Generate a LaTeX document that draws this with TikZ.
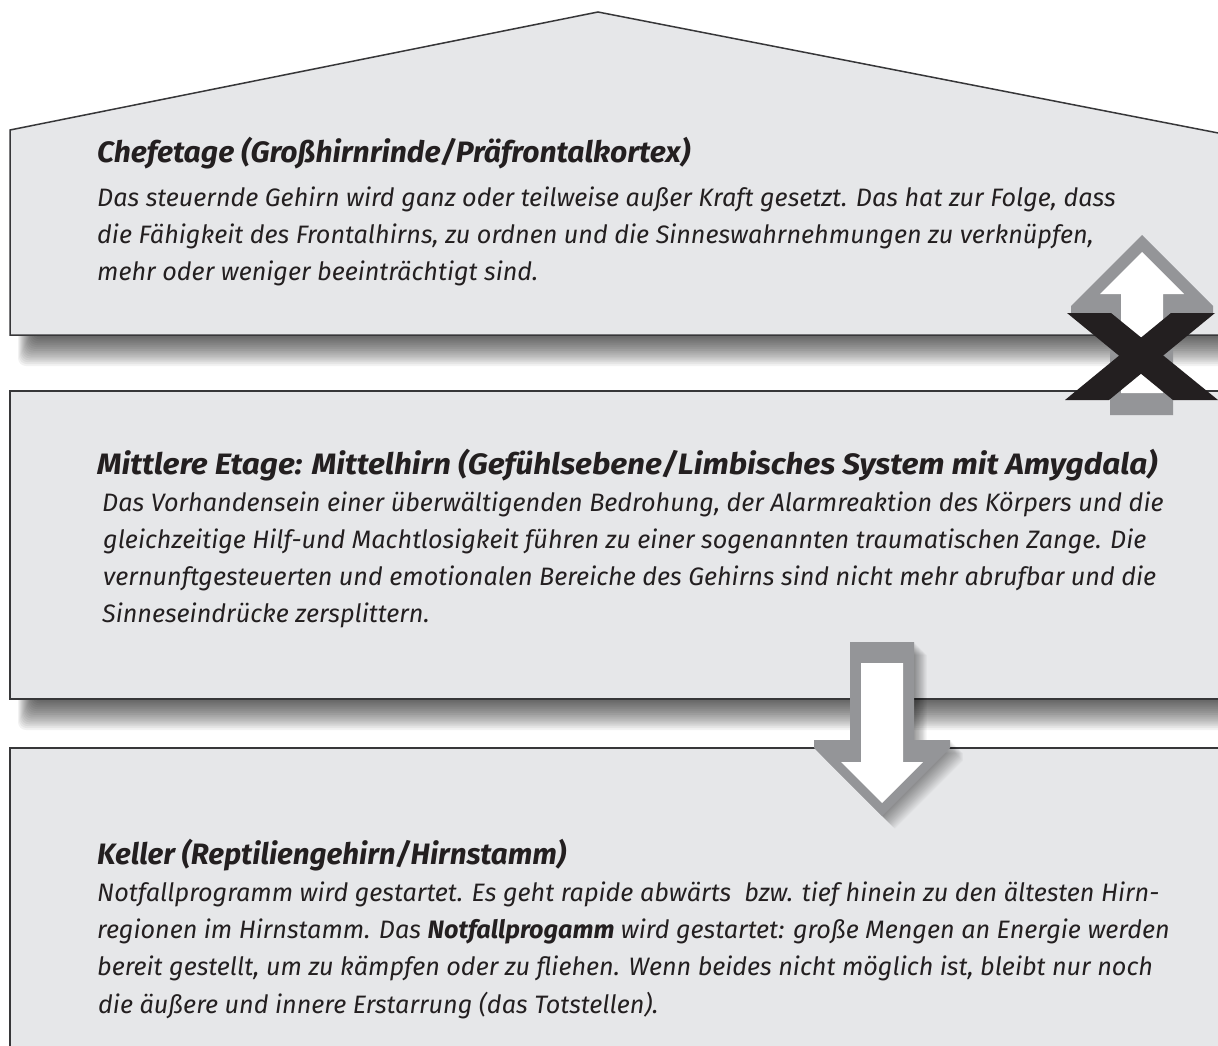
\documentclass[tikz,border=0pt]{standalone}
\usepackage{fontspec}
\usepackage{graphicx}
\setmainfont{Fira Sans}
\definecolor{boxfill}{RGB}{230,231,233}
\definecolor{boxline}{RGB}{55,55,57}
\definecolor{txt}{RGB}{35,31,32}
\definecolor{arrowgray}{RGB}{148,149,152}
\begin{document}
\begin{tikzpicture}[x=1pt,y=-1pt,
  boxstyle/.style={fill=boxfill,draw=boxline,line width=1.5pt,line join=miter},
  titletext/.style={anchor=base west,inner sep=0pt,text=txt,font=\fontsize{29.5}{34}\selectfont\bfseries\itshape},
  bodytext/.style={anchor=base west,inner sep=0pt,text=txt,font=\fontsize{25.2}{30}\selectfont\itshape},
  shadowlayer/.style={fill=black,opacity=0.05}]
\useasboundingbox (0,0) rectangle (1218,1046);
\clip (0,0) rectangle (1218,1046);
\fill[white] (0,0) rectangle (1218,1046);

% shadows below the upper two floors
\foreach \k in {0,...,15}{
  \fill[shadowlayer,rounded corners=8pt] (18+\k*1.0,320) rectangle (1250,366-\k*1.9);
  \fill[shadowlayer,rounded corners=8pt] (18+\k*1.0,690) rectangle (1250,730-\k*1.9);
}

% floors
\filldraw[boxstyle] (1250,335) -- (10,335) -- (10,130) -- (598,12) -- (1250,139.2);
\filldraw[boxstyle] (1250,699) -- (10,699) -- (10,391) -- (1250,391);
\filldraw[boxstyle] (1250,748) -- (10,748) -- (10,1060) -- (1250,1060);

% texts: top floor
\node[titletext] (t0) at (97,162) {\resizebox{593pt}{\height}{Chefetage (Großhirnrinde/Präfrontalkortex)}};
\node[bodytext] (t1) at (97,206) {Das steuernde Gehirn wird ganz oder teilweise außer Kraft gesetzt. Das hat zur Folge, dass};
\node[bodytext] (t2) at (97,243) {die Fähigkeit des Frontalhirns, zu ordnen und die Sinneswahrnehmungen zu verknüpfen,};
\node[bodytext] (t3) at (97,280) {mehr oder weniger beeinträchtigt sind.};

% middle floor
\node[titletext] (m0) at (97,474) {\resizebox{1060pt}{\height}{Mittlere Etage: Mittelhirn (Gefühlsebene/Limbisches System mit Amygdala)}};
\node[bodytext] (m1) at (102,511) {Das Vorhandensein einer überwältigenden Bedrohung, der Alarmreaktion des Körpers und die};
\node[bodytext] (m2) at (103,548) {gleichzeitige Hilf-und Machtlosigkeit führen zu einer sogenannten traumatischen Zange. Die};
\node[bodytext] (m3) at (103,585) {vernunftgesteuerten und emotionalen Bereiche des Gehirns sind nicht mehr abrufbar und die};
\node[bodytext] (m4) at (102,622) {Sinneseindrücke zersplittern.};

% basement
\node[titletext] (b0) at (97,864) {Keller (Reptiliengehirn/Hirnstamm)};
\node[bodytext] (b1) at (97,901) {Notfallprogramm wird gestartet. Es geht rapide abwärts\ \ bzw. tief hinein zu den ältesten Hirn-};
\node[bodytext] (b2) at (97,938) {regionen im Hirnstamm. Das \textbf{Notfallprogamm} wird gestartet: große Mengen an Energie werden};
\node[bodytext] (b3) at (97,975) {bereit gestellt, um zu kämpfen oder zu fliehen. Wenn beides nicht möglich ist, bleibt nur noch};
\node[bodytext] (b4) at (98,1013) {die äußere und innere Erstarrung (das Totstellen).};

% up arrow (blocked)
\fill[arrowgray] (1142,235) -- (1213,306) -- (1213,313) -- (1173,313) -- (1173,415) -- (1110,415) -- (1110,313) -- (1071,313) -- (1071,306) -- cycle;
\fill[white] (1142,252) -- (1184,294) -- (1163,294) -- (1163,393) -- (1121,393) -- (1121,294) -- (1100,294) -- cycle;
% black cross
\fill[txt] (1067,313) -- (1111,313) -- (1218,400) -- (1173,400) -- cycle;
\fill[txt] (1171,313) -- (1215,313) -- (1109,400) -- (1065,400) -- cycle;

% down arrow shadow
\foreach \k in {1,...,16}{
  \fill[black,opacity=0.028,shift={(\k*0.8,\k*0.8)}] (850,642) -- (914,642) -- (914,740) -- (950,740) -- (950,748) -- (882,816) -- (814,748) -- (814,740) -- (850,740) -- cycle;
}
% down arrow
\fill[arrowgray] (850,642) -- (914,642) -- (914,740) -- (950,740) -- (950,748) -- (882,816) -- (814,748) -- (814,740) -- (850,740) -- cycle;
\fill[white] (861,663) -- (903,663) -- (903,762) -- (923,762) -- (882,803) -- (841,762) -- (861,762) -- cycle;
\end{tikzpicture}
\end{document}
